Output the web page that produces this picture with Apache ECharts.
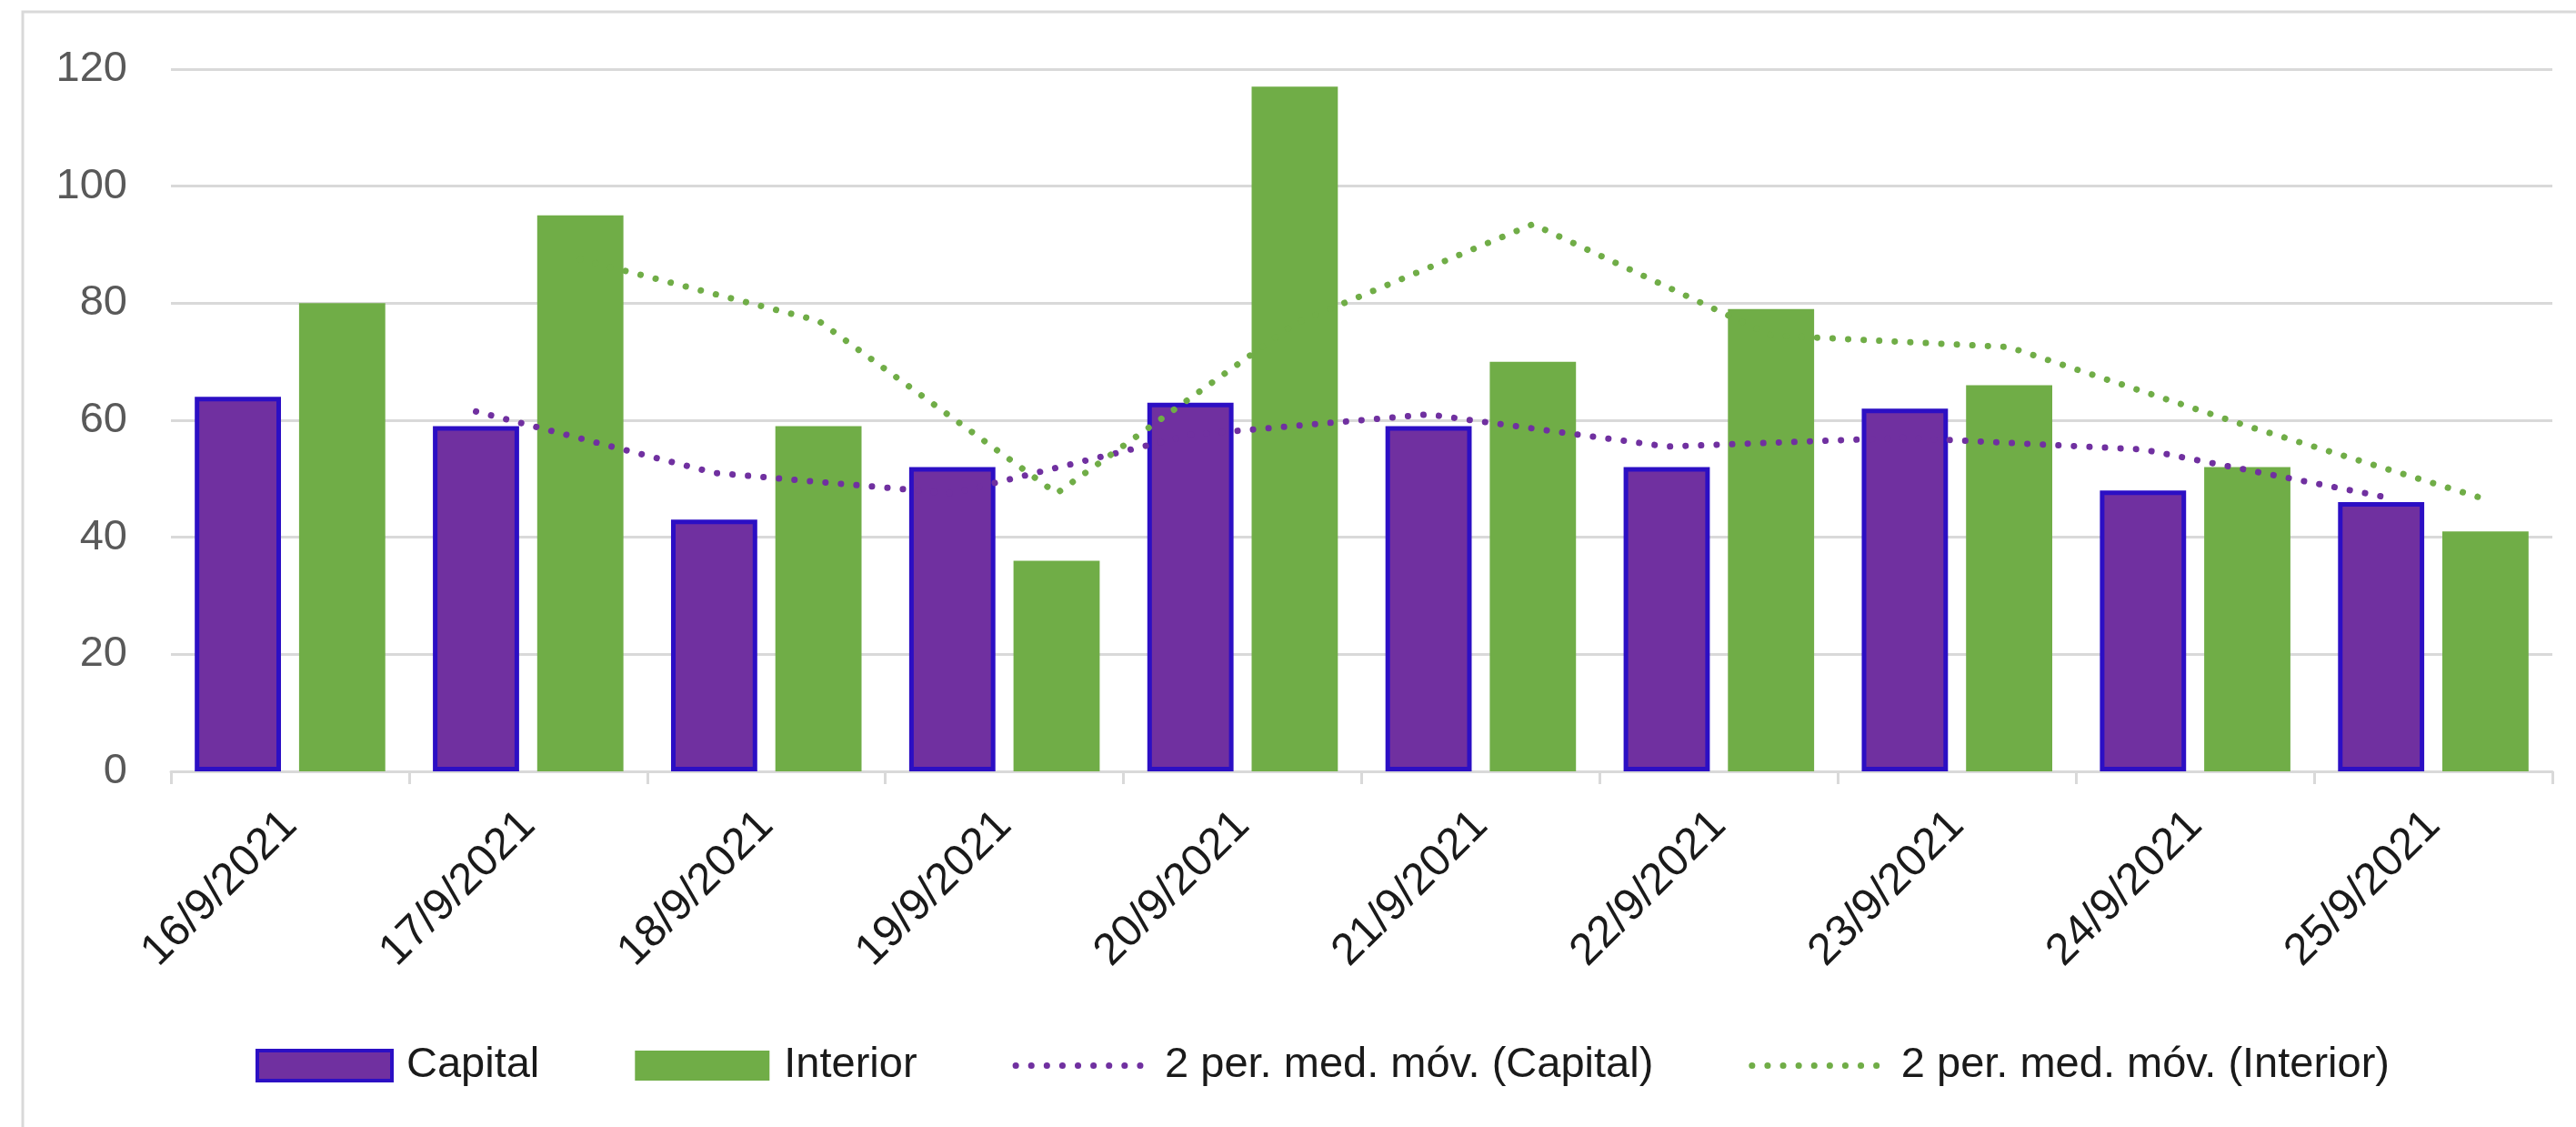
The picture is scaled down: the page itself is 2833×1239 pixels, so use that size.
<!DOCTYPE html>
<html>
<head>
<meta charset="utf-8">
<script src="https://cdn.jsdelivr.net/npm/echarts@6/dist/echarts.min.js"></script>
<style>
  html, body { margin: 0; padding: 0; background: #fff; }
  #chart { width: 2833px; height: 1239px; }
</style>
</head>
<body>
<div id="chart"></div>
<script>
const dates = ['16/9/2021', '17/9/2021', '18/9/2021', '19/9/2021', '20/9/2021',
  '21/9/2021', '22/9/2021', '23/9/2021', '24/9/2021', '25/9/2021'];
const capital = [64, 59, 43, 52, 63, 59, 52, 62, 48, 46];
const interior = [80, 95, 59, 36, 117, 70, 79, 66, 52, 41];
// 2-period moving averages (first day has none)
const maCapital = [null, 61.5, 51, 47.5, 57.5, 61, 55.5, 57, 55, 47];
const maInterior = [null, 87.5, 77, 47.5, 76.5, 93.5, 74.5, 72.5, 59, 46.5];

const FONT = '"Liberation Sans", Arial, sans-serif';
const PURPLE = '#7030A0';
const BLUE_EDGE = '#2C0FC4';
const GREEN = '#70AD47';
const GRID_GRAY = '#D9D9D9';

// bar layout, also used to put each average on top of its own bar
const catGap = 0.2;
const barGapRatio = 0.21;
const barW = (1 - catGap) / (2 + barGapRatio);
const shift = barW * (1 + barGapRatio) / 2;

const toPoints = (arr, dx) =>
  arr.map((v, i) => (v == null ? null : [i + dx, v])).filter(p => p);

const chart = echarts.init(document.getElementById('chart'));

const DOT_W = 7;
const dotted = color => ({
  color: color,
  width: DOT_W,
  type: [0.1, 17],
  cap: 'round'
});

// legend entries for the averages: dotted line only, no marker
const lineLegend = name => ({
  name: name,
  itemStyle: { opacity: 0 },
  lineStyle: { width: DOT_W, type: [0.1, 17], cap: 'round' }
});

chart.setOption({
  backgroundColor: '#fff',
  animation: false,
  graphic: [{
    type: 'rect',
    shape: { x: 25, y: 13, width: 3000, height: 2000 },
    style: { fill: 'none', stroke: GRID_GRAY, lineWidth: 3 },
    silent: true
  }],
  grid: { left: 188, right: 26, top: 76, bottom: 391 },
  legend: {
    left: 276,
    top: 1143,
    itemWidth: 148,
    itemHeight: 33,
    itemGap: 105,
    textStyle: {
      fontFamily: FONT,
      fontSize: 47,
      color: '#1a1a1a',
      padding: [0, 0, 0, 11]
    },
    data: [
      { name: 'Capital', icon: 'rect', itemStyle: { borderColor: BLUE_EDGE, borderWidth: 4 } },
      { name: 'Interior', icon: 'rect' },
      lineLegend('2 per. med. móv. (Capital)'),
      lineLegend('2 per. med. móv. (Interior)')
    ]
  },
  xAxis: [{
    type: 'category',
    data: dates,
    axisLine: { lineStyle: { color: GRID_GRAY, width: 3 } },
    axisTick: { show: true, length: 14, lineStyle: { color: GRID_GRAY, width: 3 } },
    axisLabel: {
      rotate: 45,
      margin: 52,
      fontFamily: FONT,
      fontSize: 49,
      color: '#1a1a1a',
      interval: 0
    }
  }, {
    type: 'value',
    min: -0.5,
    max: dates.length - 0.5,
    show: false
  }],
  yAxis: {
    type: 'value',
    min: 0,
    max: 120,
    interval: 20,
    axisLine: { show: false },
    axisTick: { show: false },
    splitLine: { lineStyle: { color: GRID_GRAY, width: 3 } },
    axisLabel: {
      margin: 48,
      fontFamily: FONT,
      fontSize: 47,
      color: '#595959'
    }
  },
  series: [
    {
      name: 'Capital',
      type: 'bar',
      data: capital,
      barCategoryGap: (catGap * 100) + '%',
      barGap: (barGapRatio * 100) + '%',
      itemStyle: { color: PURPLE, borderColor: BLUE_EDGE, borderWidth: 5 }
    },
    {
      name: 'Interior',
      type: 'bar',
      data: interior,
      itemStyle: { color: GREEN }
    },
    {
      name: '2 per. med. móv. (Capital)',
      type: 'line',
      xAxisIndex: 1,
      data: toPoints(maCapital, -shift),
      symbol: 'none',
      itemStyle: { color: PURPLE },
      lineStyle: dotted(PURPLE),
      z: 5
    },
    {
      name: '2 per. med. móv. (Interior)',
      type: 'line',
      xAxisIndex: 1,
      data: toPoints(maInterior, shift),
      symbol: 'none',
      itemStyle: { color: GREEN },
      lineStyle: dotted(GREEN),
      z: 5
    }
  ]
});
</script>
</body>
</html>
